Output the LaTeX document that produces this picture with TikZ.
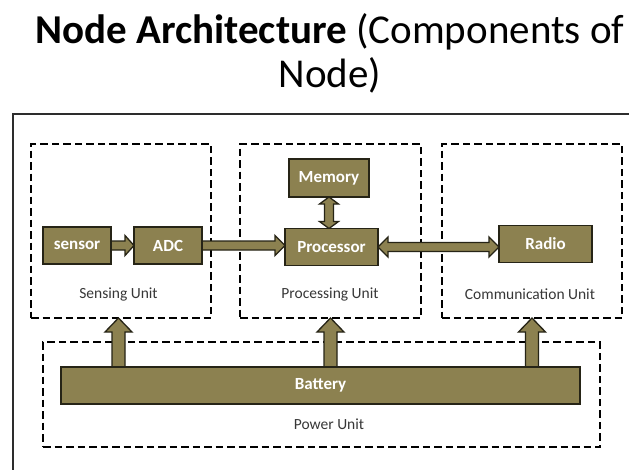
\documentclass[tikz,border=0pt]{standalone}
\usepackage{fontspec}
\setmainfont{Carlito}
\usetikzlibrary{calc,backgrounds}

\definecolor{boxfill}{RGB}{140,129,80}
\definecolor{boxline}{RGB}{38,36,22}
\definecolor{labeltext}{RGB}{55,55,55}
\definecolor{frameline}{RGB}{45,45,45}

% block arrow from #1 to #2: shaft half-width #3, head half-width #4, head length #5
\newcommand\blockarrow[5]{%
  \path ($(#2)!#5!(#1)$) coordinate (ba-h);
  \draw[blockarrow] ($(#1)!#3!90:(#2)$) -- ($(ba-h)!#3!90:(#2)$) -- ($(ba-h)!#4!90:(#2)$)
    -- (#2) -- ($(ba-h)!#4!-90:(#2)$) -- ($(ba-h)!#3!-90:(#2)$) -- ($(#1)!#3!-90:(#2)$) -- cycle;
}
% double-headed block arrow between #1 and #2
\newcommand\blockarrowboth[5]{%
  \path ($(#2)!#5!(#1)$) coordinate (ba-h) ($(#1)!#5!(#2)$) coordinate (ba-g);
  \draw[blockarrow] (#1) -- ($(ba-g)!#4!90:(#2)$) -- ($(ba-g)!#3!90:(#2)$) -- ($(ba-h)!#3!90:(#2)$)
    -- ($(ba-h)!#4!90:(#2)$) -- (#2) -- ($(ba-h)!#4!-90:(#2)$) -- ($(ba-h)!#3!-90:(#2)$)
    -- ($(ba-g)!#3!-90:(#2)$) -- ($(ba-g)!#4!-90:(#2)$) -- cycle;
}

\tikzset{
  comp/.style={draw=boxline, fill=boxfill, line width=1.5pt, rectangle, outer sep=0pt,
    text=white, font=\fontsize{17}{19}\selectfont\bfseries, inner sep=0pt},
  unitbox/.style={draw=black, line width=2.3pt, dash pattern=on 7.5pt off 4pt, rectangle,
    outer sep=0pt, inner sep=0pt},
  unitlabel/.style={text=labeltext, font=\fontsize{15.5}{17}\selectfont, inner sep=0pt, anchor=base},
  blockarrow/.style={draw=boxline, fill=boxfill, line width=1.3pt, line join=miter},
  titletext/.style={text=black, font=\fontsize{41}{46}\selectfont, inner sep=0pt, anchor=base},
}

\begin{document}
\begin{tikzpicture}[x=1pt, y=-1pt]
\useasboundingbox (0,0) rectangle (629,469);

% title
\node[titletext] (title1) at (330,43.5) {\textbf{Node Architecture} (Components of};
\node[titletext] (title2) at (330,87) {Node)};

% outer frame
\coordinate (frameBL) at (13,470);
\coordinate (frameTL) at (13,114);
\coordinate (frameTR) at (630,114);
\draw[frameline, line width=2.2pt] (frameBL) -- (frameTL) -- (frameTR);

% components
\node[comp, minimum width=68pt, minimum height=37pt] (sensor) at (77,245.5) {sensor};
\node[comp, minimum width=68pt, minimum height=37pt] (adc) at (168,245.5) {ADC};
\node[comp, minimum width=80pt, minimum height=38pt] (memory) at (329,178) {Memory};
\node[comp, minimum width=93pt, minimum height=37pt] (processor) at (331.5,247) {Processor};
\node[comp, minimum width=93pt, minimum height=37pt] (radio) at (545.5,244) {Radio};
\node[comp, minimum width=519pt, minimum height=37pt] (battery) at (320.5,385.5) {Battery};

% unit labels
\node[unitlabel] (senslabel) at (118.5,298) {Sensing Unit};
\node[unitlabel] (proclabel) at (330,298) {Processing Unit};
\node[unitlabel] (commlabel) at (530,299) {Communication Unit};
\node[unitlabel] (powerlabel) at (329,429) {Power Unit};

\begin{scope}[on background layer]
  \fill[white] (0,0) rectangle (629,469);

  % dashed unit boundaries
  \node[unitbox, minimum width=180pt, minimum height=174pt] (sensing) at (121,231) {};
  \node[unitbox, minimum width=181pt, minimum height=174pt] (processing) at (330.5,231) {};
  \node[unitbox, minimum width=180pt, minimum height=174pt] (comm) at (532,231) {};
  \node[unitbox, minimum width=557pt, minimum height=105pt] (power) at (321.5,394.5) {};

  % data paths
  \blockarrow{sensor.east}{adc.west}{4.5pt}{10pt}{9pt}
  \blockarrow{adc.east}{adc.east -| processor.west}{4.5pt}{10pt}{10pt}
  \blockarrowboth{processor.east}{processor.east -| radio.west}{4.5pt}{10pt}{10pt}
  \blockarrowboth{memory.south}{memory.south |- processor.north}{4.5pt}{9.5pt}{7pt}

  % power supply paths
  \blockarrow{battery.north -| senslabel}{senslabel |- sensing.south}{6.5pt}{13.5pt}{14pt}
  \blockarrow{battery.north -| processing.south}{processing.south}{6.5pt}{13.5pt}{14pt}
  \blockarrow{battery.north -| comm.south}{comm.south}{6.5pt}{13.5pt}{14pt}
\end{scope}
\end{tikzpicture}
\end{document}
